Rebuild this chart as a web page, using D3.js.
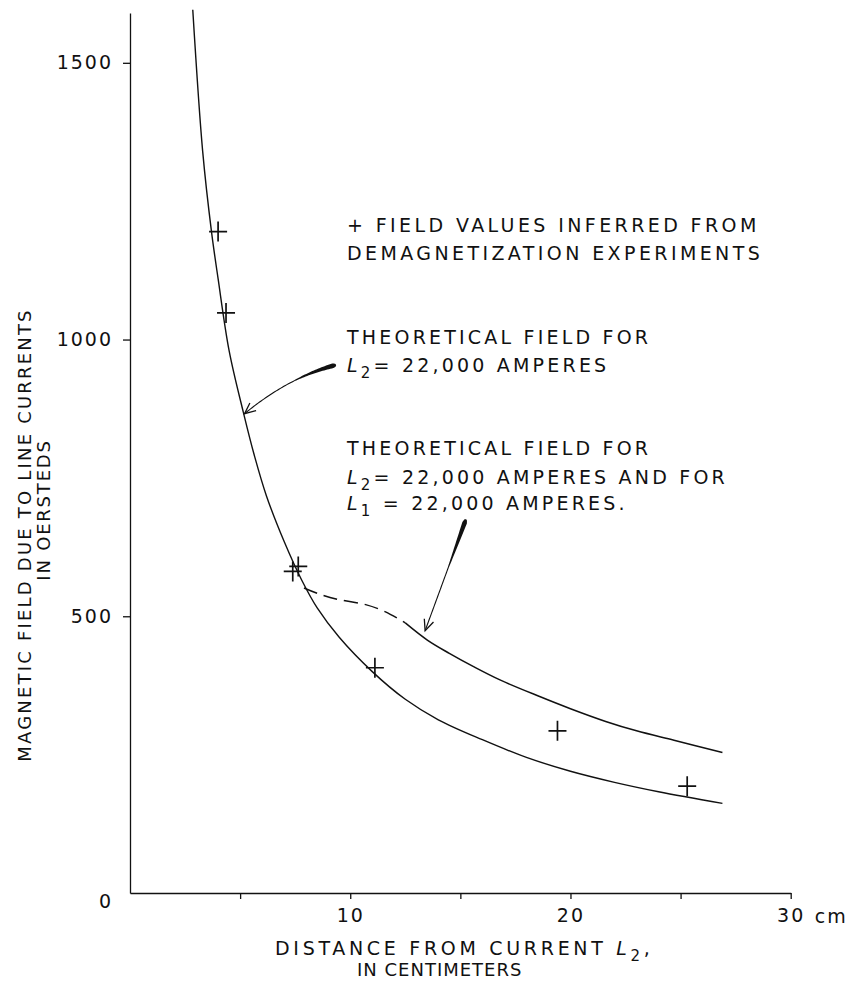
<!DOCTYPE html>
<html>
<head>
<meta charset="utf-8">
<script src="https://cdn.jsdelivr.net/npm/d3@7"></script>
<style>
html, body { margin: 0; padding: 0; background: #fff; }
svg { display: block; }
text { font-family: "DejaVu Sans", sans-serif; font-size: 19px; fill: #111; }
</style>
</head>
<body>
<script>
// theoretical field for L2 alone (cm, oersteds)
var singleX = [2.85, 3.3, 3.7, 4.0, 4.5, 5.15, 5.65, 6.2, 7.0, 7.8, 8.5, 9.5, 11.0, 12.5, 14.0, 16.0, 18.0, 20.0, 22.0, 24.0, 26.9]
var singleH = [1596, 1340, 1195, 1110, 980, 868, 790, 717, 635, 565, 515, 462, 400, 350, 313, 277, 245, 220, 200, 183, 162]

// theoretical field for L2 and L1 together: dashed stretch, then solid
var dashX = [7.9, 8.6, 9.5, 10.7, 11.6, 12.5]
var dashH = [551, 540, 530, 521, 508, 488]
var bothX = [12.5, 13.5, 14.5, 15.6, 16.8, 18.6, 20.0, 21.6, 23.0, 24.7, 26.9]
var bothH = [488, 457, 433, 409, 385, 355, 333, 310, 293, 276, 254]

// field values inferred from demagnetization experiments
var expX = [4.0, 4.36, 7.39, 7.64, 11.12, 19.41, 25.3]
var expH = [1195, 1048, 581, 590, 407, 293, 193]

var xTicks = [5, 10, 15, 20, 25, 30]
var xTickLabels = [10, 20, 30]
var yTicks = [500, 1000, 1500]

var width = 858, height = 981

var x = d3.scaleLinear().domain([0, 30]).range([130, 790.7])
var y = d3.scaleLinear().domain([0, 1590]).range([893, 13])

var svg = d3.select('body').append('svg')
  .attr('width', width)
  .attr('height', height)

var ink = '#111'

// axes
var xAxis = d3.axisBottom(x)
  .tickValues(xTicks)
  .tickSize(6)
  .tickSizeOuter(0)
  .tickPadding(10)
  .tickFormat(function (d) { return xTickLabels.indexOf(d) >= 0 ? d : '' })

var yAxis = d3.axisLeft(y)
  .tickValues(yTicks)
  .tickSize(7)
  .tickSizeOuter(0)
  .tickPadding(10)
  .tickFormat(d3.format('d'))

svg.append('g')
  .attr('transform', 'translate(0,' + y(0) + ')')
  .call(xAxis)
svg.append('g')
  .attr('transform', 'translate(' + x(0) + ',0)')
  .call(yAxis)

svg.selectAll('g').attr('font-family', null).attr('font-size', null)
svg.selectAll('.domain, .tick line').attr('stroke', ink).attr('stroke-width', 1.3)
svg.selectAll('.tick text').attr('fill', ink).style('letter-spacing', '2px')

// "0" sits below-left of the origin, "cm" after the 30
svg.append('text')
  .attr('x', x(0) - 17)
  .attr('y', y(0) + 15)
  .attr('text-anchor', 'end')
  .style('letter-spacing', '2px')
  .text('0')
svg.append('text')
  .attr('x', x(30) + 24)
  .attr('y', y(0) + 30)
  .style('letter-spacing', '2px')
  .text('cm')

// curves
var line = d3.line()
  .x(function (d) { return x(d[0]) })
  .y(function (d) { return y(d[1]) })
  .curve(d3.curveCatmullRom.alpha(0.5))

function pairs (xs, hs) { return xs.map(function (v, i) { return [v, hs[i]] }) }

svg.append('path')
  .datum(pairs(singleX, singleH))
  .attr('d', line)
  .attr('fill', 'none')
  .attr('stroke', ink)
  .attr('stroke-width', 1.4)

svg.append('path')
  .datum(pairs(dashX, dashH))
  .attr('d', line)
  .attr('fill', 'none')
  .attr('stroke', ink)
  .attr('stroke-width', 1.5)
  .attr('stroke-dasharray', '14,7')

svg.append('path')
  .datum(pairs(bothX, bothH))
  .attr('d', line)
  .attr('fill', 'none')
  .attr('stroke', ink)
  .attr('stroke-width', 1.5)

// crosses
svg.append('g').selectAll('path')
  .data(pairs(expX, expH))
  .join('path')
  .attr('d', function (d) {
    var cx = x(d[0]), cy = y(d[1])
    return 'M' + (cx - 9) + ',' + cy + 'H' + (cx + 9) + 'M' + cx + ',' + (cy - 10) + 'V' + (cy + 10)
  })
  .attr('stroke', ink)
  .attr('stroke-width', 1.7)

// hand drawn pointers: tapered shaft and an open head
function pointer (tail, ctrl, tip, maxW) {
  var p0 = [x(tail[0]), y(tail[1])], p1 = [x(ctrl[0]), y(ctrl[1])], p2 = [x(tip[0]), y(tip[1])]
  var left = [], right = [], n = 60
  for (var i = 0; i <= n; i++) {
    var t = i / n, u = 1 - t
    var px = u * u * p0[0] + 2 * u * t * p1[0] + t * t * p2[0]
    var py = u * u * p0[1] + 2 * u * t * p1[1] + t * t * p2[1]
    var tx = 2 * u * (p1[0] - p0[0]) + 2 * t * (p2[0] - p1[0])
    var ty = 2 * u * (p1[1] - p0[1]) + 2 * t * (p2[1] - p1[1])
    var len = Math.sqrt(tx * tx + ty * ty)
    var nx = -ty / len, ny = tx / len
    var w = t < 0.45 ? maxW * (1 - t / 0.45) + 1.1 * (t / 0.45) : 1.1
    if (t < 0.03) w = maxW * (0.4 + 0.6 * t / 0.03)
    left.push([px + nx * w / 2, py + ny * w / 2])
    right.push([px - nx * w / 2, py - ny * w / 2])
  }
  svg.append('path')
    .attr('d', d3.line()(left.concat(right.reverse())) + 'Z')
    .attr('fill', ink)
  // head, opened back along the tangent at the tip
  var ax = p2[0] - p1[0], ay = p2[1] - p1[1]
  var al = Math.sqrt(ax * ax + ay * ay)
  ax /= al; ay /= al
  var headLen = 12, spread = 0.42
  var heads = [spread, -spread].map(function (a) {
    var c = Math.cos(a), s = Math.sin(a)
    var bx = -(ax * c - ay * s), by = -(ax * s + ay * c)
    return [p2[0] + bx * headLen, p2[1] + by * headLen]
  })
  svg.append('path')
    .attr('d', 'M' + heads[0] + 'L' + p2 + 'L' + heads[1])
    .attr('fill', 'none')
    .attr('stroke', ink)
    .attr('stroke-width', 1.3)
}

pointer([9.35, 954], [7.25, 933], [5.2, 866], 5)
pointer([15.25, 675], [14.4, 582], [13.4, 474], 5)

// lettering
function lettered (xPos, yPos, parts, spacing, size) {
  var t = svg.append('text')
    .attr('x', xPos)
    .attr('y', yPos)
    .style('letter-spacing', spacing + 'px')
  if (size) t.style('font-size', size + 'px')
  parts.forEach(function (p) {
    var s = t.append('tspan').text(p.t)
    if (p.i) s.style('font-style', 'italic')
    if (p.sub) s.attr('dy', 6).style('font-size', '15px')
    if (p.up) s.attr('dy', -6)
  })
  return t
}

var lx = 347
lettered(lx, 232, [{t: '+ FIELD VALUES INFERRED FROM'}], 3.4)
lettered(lx, 260, [{t: 'DEMAGNETIZATION EXPERIMENTS'}], 3.4)
lettered(lx, 344, [{t: 'THEORETICAL FIELD FOR'}], 3.2)
lettered(lx, 372, [{t: 'L', i: true}, {t: '2', sub: true}, {t: '= 22,000 AMPERES', up: true}], 3.2)
lettered(lx, 455, [{t: 'THEORETICAL FIELD FOR'}], 3.2)
lettered(lx, 484, [{t: 'L', i: true}, {t: '2', sub: true}, {t: '= 22,000 AMPERES AND FOR', up: true}], 3.2)
lettered(lx, 510, [{t: 'L', i: true}, {t: '1', sub: true}, {t: ' = 22,000 AMPERES.', up: true}], 3.2)

// axis titles
lettered(275, 955, [{t: 'DISTANCE FROM CURRENT '}, {t: 'L', i: true}, {t: '2', sub: true}, {t: ',', up: true}], 3.7)
lettered(357, 976, [{t: 'IN CENTIMETERS'}], 1, 18)

svg.append('text')
  .attr('transform', 'translate(31,535) rotate(-90)')
  .attr('text-anchor', 'middle')
  .style('letter-spacing', '2.2px')
  .style('font-size', '18px')
  .text('MAGNETIC FIELD DUE TO LINE CURRENTS')
svg.append('text')
  .attr('transform', 'translate(50,510) rotate(-90)')
  .attr('text-anchor', 'middle')
  .style('letter-spacing', '1.8px')
  .style('font-size', '18px')
  .text('IN OERSTEDS')
</script>
</body>
</html>
